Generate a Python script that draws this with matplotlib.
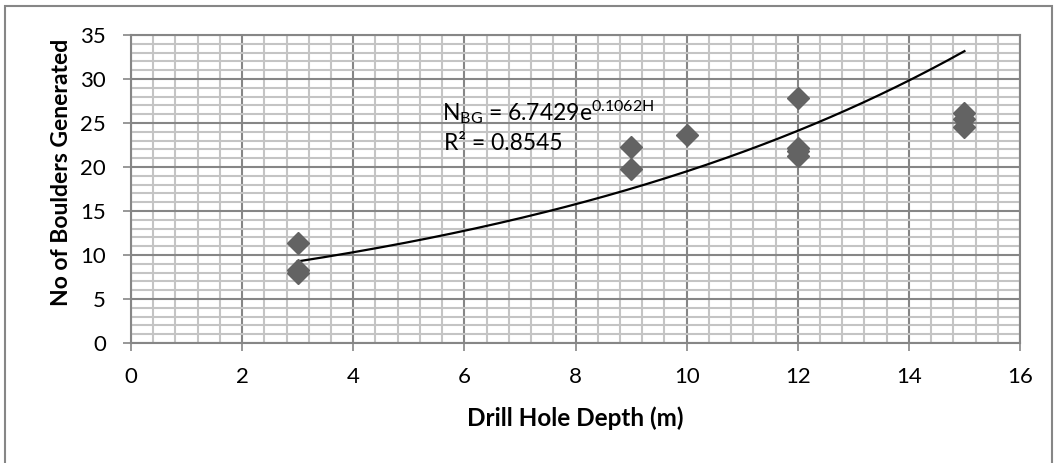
import numpy as np
import matplotlib
matplotlib.use("Agg")
import matplotlib.pyplot as plt
from matplotlib.ticker import MultipleLocator
from matplotlib.patches import Rectangle

plt.rcParams['font.family'] = ['Lato', 'DejaVu Sans']
plt.rcParams['mathtext.default'] = 'regular'

# Data
depth = [3, 3, 3, 9, 9, 10, 12, 12, 12, 12, 15, 15, 15]
boulders = [11.4, 8.3, 7.9, 22.3, 19.8, 23.6, 27.8, 22.2, 21.8, 21.3, 26.1, 25.5, 24.6]
fit_a = 6.7429
fit_b = 0.1062
r2 = 0.8545
xticks = [0, 2, 4, 6, 8, 10, 12, 14, 16]
yticks = [0, 5, 10, 15, 20, 25, 30, 35]

W, H = 1059, 463
fig = plt.figure(figsize=(W / 100, H / 100), dpi=100)
ax = fig.add_axes([131 / W, 1 - 343 / H, (1020 - 131) / W, (343 - 35) / H])

major_c = '#868686'
minor_c = '#c4c4c4'

ax.set_xlim(0, 16)
ax.set_ylim(0, 35)
ax.set_xticks(xticks)
ax.set_yticks(yticks)
ax.xaxis.set_minor_locator(MultipleLocator(0.4))
ax.yaxis.set_minor_locator(MultipleLocator(1))
ax.grid(which='minor', color=minor_c, linewidth=1.5, zorder=0)
ax.grid(which='major', color=major_c, linewidth=1.5, zorder=0)
ax.set_axisbelow(True)
ax.tick_params(which='major', length=6, width=1.2, color=major_c, labelsize=16)
ax.tick_params(axis='x', which='major', pad=11)
ax.tick_params(axis='y', which='major', pad=12)
ax.tick_params(which='minor', length=0)
for s in ax.spines.values():
    s.set_color(major_c)
    s.set_linewidth(1.5)

# Fitted exponential trend line
xf = np.linspace(min(depth), max(depth), 200)
ax.plot(xf, fit_a * np.exp(fit_b * xf), color='black', linewidth=1.6, zorder=3)

ax.plot(depth, boulders, linestyle='none', marker='D', markersize=11,
        color='#636363', markeredgecolor='#636363', zorder=4)

ax.set_xlabel('Drill Hole Depth (m)', fontsize=17.5, fontweight='bold')
ax.xaxis.set_label_coords(0.5, -(418 - 343) / (343 - 35))
ax.xaxis.label.set_va('center')
ax.set_ylabel('No of Boulders Generated', fontsize=16.5, fontweight='bold')
ax.yaxis.set_label_coords(-(131 - 62) / (1020 - 131), (343 - 172) / (343 - 35))
ax.yaxis.label.set_va('center')

ax.text(5.6, 26.3, 'N$_{BG}$ = %.4fe$^{%.4fH}$' % (fit_a, fit_b), fontsize=16.5,
        va='center', ha='left', zorder=5)
ax.text(5.63, 22.7, 'R² = %.4f' % r2, fontsize=16.5, va='center', ha='left', zorder=5)

fig.patches.append(Rectangle((5 / W, -10 / H), (1052 - 5) / W, (457 + 10) / H,
                             transform=fig.transFigure, fill=False,
                             edgecolor='#868686', linewidth=1.5))

fig.savefig('out.png', dpi=100)
